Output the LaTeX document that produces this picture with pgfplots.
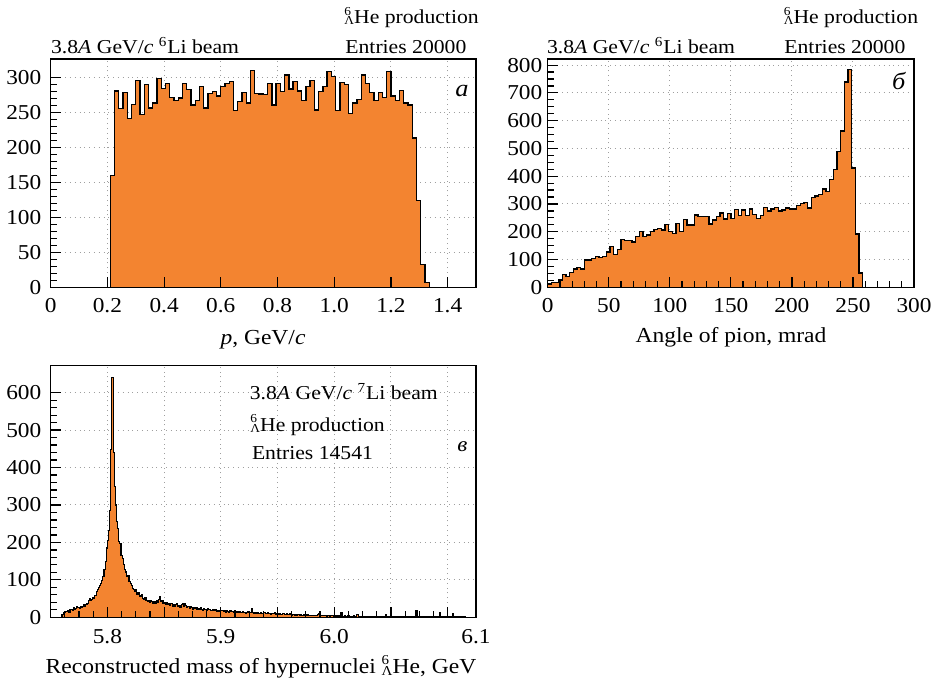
\documentclass[border=0pt]{standalone}
\usepackage{fontspec}
\setmainfont{Liberation Serif}[FakeStretch=1.1]
\usepackage{pgfplots}
\pgfplotsset{compat=1.18}
\usepackage{pgfplotstable}
\definecolor{horange}{RGB}{243,132,48}
\newcommand\LHe{{\fontsize{6.1}{7}\selectfont\rlap{\raisebox{4.4pt}{6}}\raisebox{-0.5pt}{Λ}}He}
\newcommand\LHeL{{\fontsize{6.8}{8}\selectfont\rlap{\raisebox{5pt}{6}}\raisebox{-0.6pt}{Λ}}He}
\newcommand\annfont{\fontsize{9.85}{12}\selectfont}
\newcommand\labfont{\fontsize{10.7}{13}\selectfont}

\pgfplotsset{
  layers/histlayers/.define layer set={axis background,axis grid,pre main,main,axis ticks,axis lines,axis tick labels,axis descriptions,axis foreground}{/pgfplots/layers/standard},
  hist/.style={
    set layers=histlayers,
    scale only axis,
    anchor=south west,
    axis line style={line width=0.7pt},
    tick align=inside,
    tick pos=left,
    major tick length=5pt,
    minor tick length=3.2pt,
    tick style={black, line width=0.6pt},
    grid=major,
    grid style={dotted, gray!75, line width=0.5pt},
    tick label style={font=\fontsize{10.6}{13}\selectfont},
    /pgf/number format/assume math mode=true,
    xticklabel style={inner sep=0pt, anchor=north, yshift=-5.5pt},
    yticklabel style={inner sep=0pt, anchor=east, xshift=-4.5pt},
  },
}

\pgfplotstableread[row sep=\\]{v\\
160\\281\\256\\279\\242\\262\\296\\247\\290\\257\\
264\\299\\285\\292\\272\\268\\271\\292\\283\\261\\
268\\288\\257\\278\\280\\274\\288\\292\\295\\253\\
266\\279\\264\\311\\278\\277\\276\\292\\261\\292\\
280\\304\\284\\295\\281\\268\\288\\296\\254\\280\\
288\\309\\302\\253\\293\\290\\249\\264\\269\\304\\
292\\279\\268\\279\\272\\309\\274\\268\\282\\264\\
261\\214\\124\\33\\7\\0\\
}\dataA

\pgfplotstableread[row sep=\\]{v\\
12\\17\\17\\26\\46\\40\\54\\66\\72\\66\\
98\\98\\103\\110\\108\\110\\127\\146\\118\\136\\
172\\169\\168\\163\\182\\200\\184\\188\\200\\208\\
212\\206\\226\\200\\194\\230\\200\\244\\224\\224\\
260\\256\\254\\254\\228\\242\\255\\267\\246\\265\\
247\\280\\259\\278\\259\\282\\261\\248\\258\\288\\
275\\282\\288\\275\\278\\286\\282\\282\\295\\301\\
305\\286\\323\\329\\334\\354\\346\\387\\424\\488\\
563\\739\\784\\430\\192\\51\\0\\
}\dataB

\pgfplotstableread[row sep=\\]{v\\
8\\14\\12\\16\\15\\19\\14\\21\\22\\19\\
25\\21\\24\\28\\26\\23\\29\\27\\30\\33\\
29\\35\\38\\45\\49\\44\\48\\52\\50\\58\\
70\\74\\80\\84\\90\\98\\110\\128\\150\\185\\
205\\232\\285\\447\\641\\440\\349\\300\\256\\238\\
202\\196\\166\\157\\140\\128\\121\\108\\111\\96\\
91\\85\\78\\74\\70\\73\\62\\65\\57\\55\\
60\\50\\48\\53\\45\\41\\44\\40\\46\\42\\
38\\42\\36\\44\\39\\48\\55\\41\\46\\37\\
40\\35\\39\\33\\36\\31\\38\\30\\34\\28\\
33\\36\\29\\31\\27\\33\\37\\30\\36\\32\\
27\\30\\24\\28\\25\\22\\27\\23\\26\\21\\
24\\20\\25\\22\\19\\23\\21\\18\\24\\20\\
22\\19\\17\\21\\18\\20\\16\\19\\15\\18\\
17\\19\\15\\18\\14\\17\\16\\13\\18\\15\\
16\\14\\17\\13\\15\\12\\16\\14\\13\\15\\
12\\14\\11\\13\\15\\12\\13\\24\\12\\11\\
13\\10\\12\\11\\9\\12\\10\\11\\13\\9\\
10\\12\\9\\11\\8\\10\\9\\12\\8\\10\\
9\\8\\10\\7\\9\\11\\8\\7\\9\\8\\
7\\9\\6\\8\\7\\6\\8\\5\\7\\6\\
8\\6\\5\\7\\6\\5\\7\\4\\6\\5\\
5\\6\\4\\6\\5\\7\\9\\11\\6\\4\\
5\\4\\6\\3\\5\\4\\3\\5\\4\\3\\
4\\3\\5\\2\\4\\3\\14\\3\\2\\4\\
3\\2\\4\\3\\2\\3\\2\\4\\2\\3\\
8\\2\\3\\1\\2\\3\\2\\1\\3\\2\\
2\\1\\3\\2\\1\\2\\3\\1\\2\\1\\
2\\1\\2\\3\\1\\7\\2\\1\\2\\1\\
1\\2\\1\\3\\1\\2\\1\\2\\1\\1\\
2\\1\\1\\2\\1\\3\\1\\2\\1\\1\\
1\\2\\18\\1\\2\\1\\1\\2\\1\\2\\
1\\1\\2\\1\\3\\1\\1\\2\\1\\1\\
2\\1\\1\\12\\1\\2\\1\\1\\2\\1\\
1\\2\\1\\1\\10\\1\\2\\1\\1\\2\\
1\\1\\2\\1\\1\\1\\0\\
}\dataC

\begin{document}
\begin{tikzpicture}
\path (0pt,0pt) rectangle (468.5pt,340pt);

% panel a
\begin{axis}[hist, at={(25.35pt,196.35pt)}, width=212.65pt, height=114.15pt,
  xmin=0, xmax=1.5, ymin=0, ymax=327,
  xtick={0,0.2,0.4,0.6,0.8,1.0,1.2,1.4,1.5},
  xticklabels={0,0.2,0.4,0.6,0.8,1.0,1.2,1.4,},
  minor x tick num=3,
  ytick={0,50,100,150,200,250,300}, minor y tick num=4]
\addplot[const plot mark left, fill=horange, draw=black, line width=0.65pt]
  table[x expr={0.21+\coordindex*0.015}, y=v]{\dataA} \closedcycle;
\end{axis}

% panel b
\begin{axis}[hist, at={(273.85pt,196.35pt)}, width=183.15pt, height=114.15pt,
  xmin=0, xmax=300, ymin=0, ymax=822,
  xtick={0,50,100,150,200,250,300}, minor x tick num=4,
  ytick={0,100,200,300,400,500,600,700,800}, minor y tick num=3,
  yticklabel style={xshift=2pt}]
\addplot[const plot mark left, fill=horange, draw=black, line width=0.65pt]
  table[x expr={\coordindex*3}, y=v]{\dataB} \closedcycle;
\end{axis}

% panel c
\begin{axis}[hist, at={(25.35pt,31.35pt)}, width=212.65pt, height=125.8pt,
  xmin=5.75, xmax=6.125, ymin=0, ymax=672,
  xtick={5.75,5.8,5.85,5.9,5.95,6.0,6.05,6.1},
  xticklabels={,5.8,,5.9,,6.0,,},
  minor x tick num=3,
  extra x ticks={6.125}, extra x tick labels={6.1},
  extra x tick style={grid=none, tick style={draw=none}},
  xticklabel style={yshift=-0.5pt},
  ytick={0,100,200,300,400,500,600}, minor y tick num=4]
\addplot[const plot mark left, fill=horange, draw=black, line width=0.55pt]
  table[x expr={5.76+\coordindex*0.001}, y=v]{\dataC} \closedcycle;
\end{axis}

% annotations
\begin{scope}[every node/.style={inner sep=0pt}]
\node[anchor=base west] at (25.35pt,313pt) {\annfont 3.8\textit{A} GeV/\textit{c} \textsuperscript{6}Li beam};
\node[anchor=base west] at (172pt,328pt) {\annfont \LHe{} production};
\node[anchor=base west] at (172.5pt,313.3pt) {\annfont Entries 20000};
\node[anchor=base] at (231pt,291.5pt) {\fontsize{12}{14}\selectfont\textit{а}};

\node[anchor=base west] at (273.3pt,313.3pt) {\annfont 3.8\textit{A} GeV/\textit{c} \textsuperscript{6}Li beam};
\node[anchor=base west] at (391.7pt,328pt) {\annfont \LHe{} production};
\node[anchor=base west] at (392pt,313.3pt) {\annfont Entries 20000};
\node[anchor=base] at (449.5pt,295pt) {\fontsize{12}{14}\selectfont\textit{б}};

\node[anchor=base west] at (124.7pt,140pt) {\annfont 3.8\textit{A} GeV/\textit{c} \textsuperscript{7}Li beam};
\node[anchor=base west] at (125pt,124.2pt) {\annfont \LHe{} production};
\node[anchor=base west] at (125.8pt,110.3pt) {\annfont Entries 14541};
\node[anchor=base] at (231.2pt,114.2pt) {\fontsize{10.5}{12}\selectfont\textit{в}};

\node[anchor=base] at (131.5pt,167.5pt) {\labfont \textit{p}, GeV/\textit{c}};
\node[anchor=base] at (365.5pt,168.7pt) {\labfont Angle of pion, mrad};
\node[anchor=base] at (130.5pt,3pt) {\labfont Reconstructed mass of hypernuclei \LHeL, GeV};
\end{scope}
\end{tikzpicture}
\end{document}
